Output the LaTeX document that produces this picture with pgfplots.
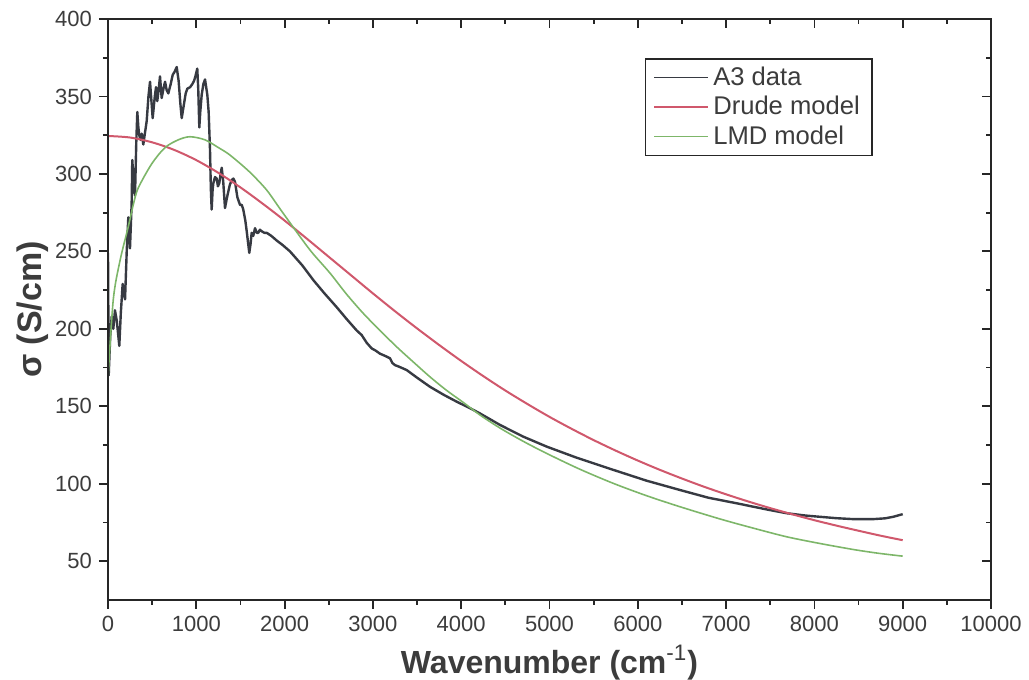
\documentclass[border=0pt]{standalone}
\usepackage{fontspec}
\setmainfont{Liberation Sans}
\usepackage{pgfplots}
\pgfplotsset{compat=1.18}
\definecolor{dataC}{RGB}{55,58,66}
\definecolor{drudeC}{RGB}{208,88,108}
\definecolor{lmdC}{RGB}{125,182,105}
\definecolor{txtC}{RGB}{60,60,60}

\begin{document}
\begin{tikzpicture}
\begin{axis}[name=ax, scale only axis, width=441.5pt, height=290.5pt,
  xmin=0, xmax=10000, ymin=25, ymax=400,
  xtick={0,1000,...,10000}, ytick={50,100,...,400},
  minor x tick num=1, minor y tick num=1,
  scaled x ticks=false, scaled y ticks=false,
  xtick pos=left, ytick pos=left, tick align=outside,
  major tick length=4.5pt, minor tick length=2.5pt,
  axis line style={line width=1pt, black!85},
  every tick/.style={line width=0.9pt, black!85},
  /pgf/number format/1000 sep={}, /pgf/number format/assume math mode=true,
  tick label style={font=\fontsize{11}{13}\selectfont, text=txtC},
  xlabel={Wavenumber (cm\textsuperscript{\mdseries -1})},
  ylabel={σ (S/cm)},
  label style={font=\fontsize{16}{19}\selectfont\bfseries, text=txtC},
  ylabel style={font=\fontsize{17}{20}\selectfont\bfseries, yshift=-3.5pt},
  legend style={at={(0.608,0.933)}, anchor=north west, draw=black!85, line width=0.8pt,
    font=\fontsize{12.8}{15}\selectfont, text=txtC, inner xsep=4pt, inner ysep=2pt},
  legend cell align=left,
  every axis plot/.append style={legend image code/.code={\draw[#1, line width=0.8pt] (0pt,0pt) -- (27pt,0pt);}},
]
\addplot[dataC, line width=1.2pt, line join=round] coordinates {
(0,249)(8,170)(25,195)(42,208)(60,200)(79,212)(100,205)(128,189)(145,210)(166,229)
(193,219)(212,250)(230,272)(249,252)(268,281)(275,309)(285,300)(295,290)(306,286)(320,320)
(332,340)(344,330)(354,325)(368,322)(382,326)(400,319)(420,327)(438,334)(458,350)(476,359.5)
(506,336)(530,350)(544,356)(558,347)(575,355)(589,363)(608,349)(628,355)(646,359.5)(665,354)
(683,352)(710,358)(733,364)(755,366)(778,369)(800,360)(820,345)(835,336)(860,345)(880,352)
(898,355)(930,356)(955,358)(974,360)(990,363)(1011,368)(1022,355)(1034,330)(1045,340)(1061,351)
(1080,358)(1099,361)(1112,356)(1125,351)(1140,340)(1155,316)(1165,290)(1174,277)(1185,290)(1193,294)
(1212,298)(1231,297)(1245,292)(1260,294)(1275,300)(1288,304)(1305,295)(1325,278)(1345,284)(1362,288.5)
(1380,293)(1401,296)(1420,297)(1438,295)(1465,285)(1495,280)(1515,280)(1532,277)(1555,270)(1571,263)
(1600,249)(1615,255)(1627,262)(1645,260)(1665,265)(1685,262)(1702,262)(1720,264)(1741,263)(1770,262)
(1797,262)(1850,260)(1911,257)(1980,254)(2061,250)(2200,241)(2325,231.5)(2450,223)(2590,214)(2700,206.5)
(2816,199)(2873,196)(2930,191)(2986,187.4)(3030,186)(3080,184)(3140,182.5)(3194,181)(3220,178)(3250,176.6)
(3300,175.5)(3383,173.4)(3500,168.5)(3647,162.6)(3800,157.5)(3949,153)(4100,148.8)(4213,145.4)(4439,138)(4700,130.5)
(4968,124)(5300,117)(5722,109)(6100,102)(6477,96)(6800,91)(7157,87)(7308,85.2)(7500,83)(7686,81)
(7900,79.5)(8063,78.7)(8250,77.8)(8440,77.2)(8667,77.2)(8800,77.7)(8893,78.7)(9000,80.4)
};
\addlegendentry{A3 data}
\addplot[drudeC, line width=1pt, smooth] coordinates {
(0,324.5)(250,323.5)(500,320.4)(750,315.5)(1000,308.9)(1250,300.7)(1500,291.3)(1750,280.9)
(2000,269.9)(2250,258.3)(2500,246.5)(2750,234.7)(3000,222.9)(3250,211.4)(3500,200.3)(3750,189.6)
(4000,179.3)(4250,169.5)(4500,160.2)(4750,151.5)(5000,143.2)(5250,135.5)(5500,128.2)(5750,121.4)
(6000,115.0)(6250,109.0)(6500,103.4)(6750,98.1)(7000,93.2)(7250,88.6)(7500,84.3)(7750,80.3)
(8000,76.5)(8250,73.0)(8500,69.7)(8750,66.5)(9000,63.6)
};
\addlegendentry{Drude model}
\addplot[lmdC, line width=0.8pt, smooth] coordinates {
(0,168)(60,219)(136,244)(230,266)(290,281)(343,291)(495,306.5)(646,317)(796,322)(929,324)
(1099,322)(1250,317)(1362,313)(1495,306.8)(1627,300)(1797,289.6)(1948,277.5)(2118,264)(2300,250)(2514,236)
(2700,222.5)(2891,210)(3080,199)(3269,188.4)(3460,178.5)(3647,169)(3830,160.5)(4024,152.5)(4213,144.4)(4439,136)
(4700,127.5)(4968,119.6)(5340,109.5)(5722,100.3)(6100,92.3)(6477,85.2)(6931,77.3)(7300,71.5)(7686,65.8)(8060,61.5)
(8440,57.6)(8720,55.2)(9000,53.3)
};
\addlegendentry{LMD model}
\end{axis}
\begin{axis}[at={(ax.south west)}, anchor=south west, scale only axis, width=441.5pt, height=290.5pt,
  xmin=0, xmax=10000, ymin=25, ymax=400,
  xtick={0,1000,...,10000}, ytick={50,100,...,400},
  minor x tick num=1, minor y tick num=1,
  xtick pos=right, ytick pos=right, tick align=inside,
  xticklabel=\empty, yticklabel=\empty,
  major tick length=4.5pt, minor tick length=2.5pt,
  axis line style={line width=1pt, black!85},
  every tick/.style={line width=0.9pt, black!85},
]
\end{axis}
\pgfresetboundingbox
\path[use as bounding box] ([xshift=-54pt,yshift=-40pt]ax.south west) rectangle ([xshift=19pt,yshift=9.5pt]ax.north east);
\end{tikzpicture}
\end{document}
